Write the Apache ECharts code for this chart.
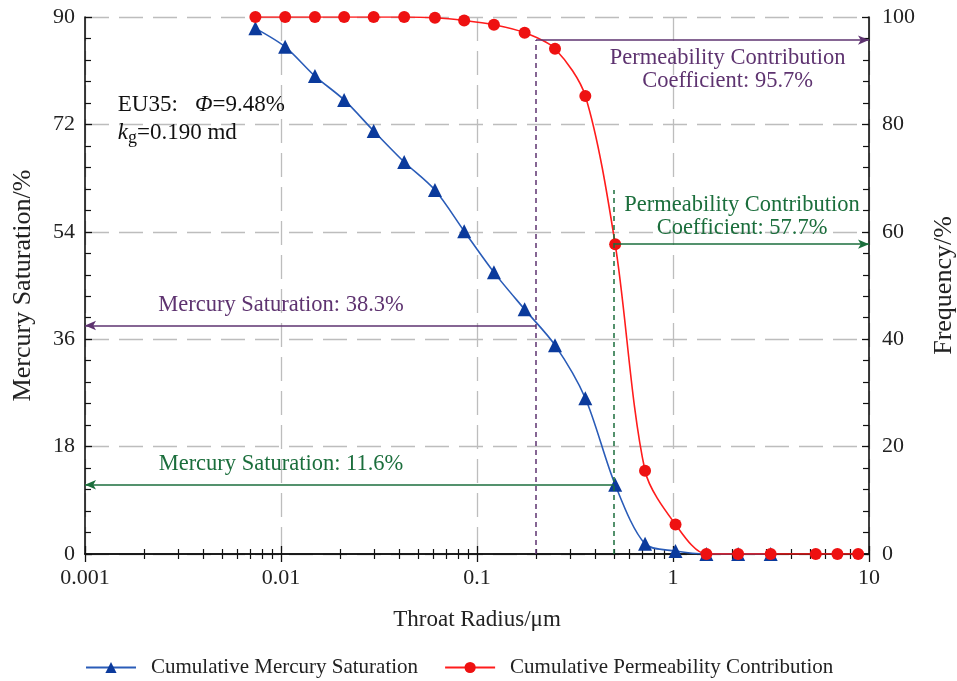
<!DOCTYPE html>
<html><head><meta charset="utf-8">
<script src="https://cdn.jsdelivr.net/npm/echarts@6/dist/echarts.min.js"></script>
<style>html,body{margin:0;padding:0;background:#fff}#c{width:957px;height:681px}</style>
</head><body><div id="c"></div>
<script>
// ---- data ----
const radius = [0.0074, 0.0105, 0.0149, 0.021, 0.0297, 0.0425, 0.061, 0.086, 0.122, 0.175, 0.25, 0.357, 0.507, 0.72, 1.03, 1.48, 2.15, 3.15, 5.35, 6.9, 8.8];
const mercurySat = [88.1, 85.0, 80.1, 76.1, 70.9, 65.7, 61.0, 54.1, 47.2, 41.0, 35.0, 26.1, 11.6, 1.7, 0.5, 0, 0, 0];
const permContrib = [100, 100, 100, 100, 100, 100, 99.85, 99.35, 98.55, 97.07, 94.1, 85.3, 57.7, 15.5, 5.5, 0, 0, 0, 0, 0, 0];
const xTickLabels = ['0.001', '0.01', '0.1', '1', '10'];
const seriesNames = ['Cumulative Mercury Saturation', 'Cumulative Permeability Contribution'];
// annotation values
const radiusA = 0.2, radiusB = 0.5;
const satA = 38.3, satB = 11.6;
const permA = 95.7, permB = 57.7;
const greenDashTop = 67.8;
const sampleInfo = { name: 'EU35', phi: '9.48%', kg: '0.190 md' };

const FONT = "'Liberation Serif','Times New Roman',serif";
const PURPLE = '#5e3370', GREEN = '#1b6e3c';

const blueData = mercurySat.map((v, i) => [radius[i], v]);
const redData = permContrib.map((v, i) => [radius[i], v]);

const chart = echarts.init(document.getElementById('c'));
const axisLineStyle = { color: '#111', width: 1.6 };
const splitStyle = { show: true, lineStyle: { color: '#bdbdbd', type: [24, 10], width: 1.3 } };
const annFont = 22.5;

const option = {
  animation: false,
  grid: { left: 85, right: 88, top: 17, bottom: 127, outerBoundsMode: 'none', containLabel: false },
  legend: {
    top: 652, left: 80, itemGap: 26, itemWidth: 50, itemHeight: 14,
    textStyle: { fontFamily: FONT, fontSize: 21, color: '#222', padding: [0, 0, 0, 10] },
    data: seriesNames
  },
  xAxis: [
    {
      type: 'log', min: 0.001, max: 10, logBase: 10, position: 'bottom',
      axisLine: { lineStyle: axisLineStyle },
      axisTick: { inside: true, length: 8, lineStyle: { color: '#111', width: 1.3 } },
      minorTick: { show: true, splitNumber: 9, length: 5, lineStyle: { color: '#111', width: 1.2 } },
      axisLabel: { fontFamily: FONT, fontSize: 22, color: '#222', margin: 13,
        formatter: (v, i) => xTickLabels[i] },
      splitLine: splitStyle,
      name: 'Throat Radius/μm', nameLocation: 'middle', nameGap: 54,
      nameTextStyle: { fontFamily: FONT, fontSize: 23, color: '#222' }
    },
    {
      type: 'log', min: 0.001, max: 10, logBase: 10, position: 'top',
      axisLine: { lineStyle: axisLineStyle },
      axisTick: { inside: true, length: 8, lineStyle: { color: '#111', width: 1.3 } },
      minorTick: { show: true, splitNumber: 9, length: 5, lineStyle: { color: '#111', width: 1.2 } },
      axisLabel: { show: false }, splitLine: { show: false }
    }
  ],
  yAxis: [
    {
      type: 'value', min: 0, max: 90, interval: 18, position: 'left',
      axisLine: { show: true, lineStyle: axisLineStyle },
      axisTick: { show: true, inside: true, length: 7, lineStyle: { color: '#111', width: 1.3 } },
      minorTick: { show: true, splitNumber: 5, length: 6, lineStyle: { color: '#111', width: 1.2 } },
      axisLabel: { fontFamily: FONT, fontSize: 22, color: '#222', margin: 10 },
      splitLine: splitStyle,
      name: 'Mercury Saturation/%', nameLocation: 'middle', nameGap: 49, nameRotate: 90,
      nameTextStyle: { fontFamily: FONT, fontSize: 26, color: '#222' }
    },
    {
      type: 'value', min: 0, max: 100, interval: 20, position: 'right',
      axisLine: { show: true, lineStyle: axisLineStyle },
      axisTick: { show: true, inside: true, length: 7, lineStyle: { color: '#111', width: 1.3 } },
      minorTick: { show: true, splitNumber: 5, length: 6, lineStyle: { color: '#111', width: 1.2 } },
      axisLabel: { fontFamily: FONT, fontSize: 22, color: '#222', margin: 13 },
      splitLine: { show: false },
      name: 'Frequency/%', nameLocation: 'middle', nameGap: 62, nameRotate: 90,
      nameTextStyle: { fontFamily: FONT, fontSize: 26, color: '#222' }
    }
  ],
  series: [
    {
      name: seriesNames[0], type: 'line', xAxisIndex: 0, yAxisIndex: 0, data: blueData,
      smooth: 0.3, symbol: 'triangle', symbolSize: 14,
      lineStyle: { color: '#2a5cb8', width: 1.6 },
      itemStyle: { color: '#0b3a9c' }, z: 3
    },
    {
      name: seriesNames[1], type: 'line', xAxisIndex: 0, yAxisIndex: 1, data: redData,
      smooth: 0.3, symbol: 'circle', symbolSize: 12,
      lineStyle: { color: '#ff1c1c', width: 1.6 },
      itemStyle: { color: '#ee1111' }, z: 4
    },
    {
      name: 'annLeft', type: 'line', xAxisIndex: 0, yAxisIndex: 0, data: [], z: 2,
      markLine: {
        silent: true, symbol: ['none', 'arrow'], symbolSize: [7, 11], label: { show: false },
        data: [
          [{ coord: [radiusA, satA], lineStyle: { color: PURPLE, width: 1.5, type: 'solid' } }, { coord: [0.001, satA] }],
          [{ coord: [radiusB, satB], lineStyle: { color: GREEN, width: 1.5, type: 'solid' } }, { coord: [0.001, satB] }]
        ]
      },
      markPoint: {
        silent: true, symbol: 'circle', symbolSize: 0,
        data: [
          { coord: [0.01, satA], label: { show: true, position: 'top', distance: 9, formatter: 'Mercury Saturation: ' + satA + '%', fontFamily: FONT, fontSize: annFont, color: PURPLE } },
          { coord: [0.01, satB], label: { show: true, position: 'top', distance: 9, formatter: 'Mercury Saturation: ' + satB + '%', fontFamily: FONT, fontSize: annFont, color: GREEN } },
          { coord: [0.00147, 72.9], label: { show: true, position: 'right', distance: 0, align: 'left', lineHeight: 28,
            formatter: '{n|' + sampleInfo.name + ':   }{i|Φ}{n|=' + sampleInfo.phi + '}\n{i|k}{s|g}{n|=' + sampleInfo.kg + '}',
            rich: {
              n: { fontFamily: FONT, fontSize: 23, color: '#111', lineHeight: 28 },
              i: { fontFamily: FONT, fontSize: 23, fontStyle: 'italic', color: '#111', lineHeight: 28 },
              s: { fontFamily: FONT, fontSize: 18, color: '#111', lineHeight: 28, verticalAlign: 'bottom' }
            } } }
        ]
      }
    },
    {
      name: 'annRight', type: 'line', xAxisIndex: 0, yAxisIndex: 1, data: [], z: 2,
      markLine: {
        silent: true, symbol: ['none', 'arrow'], symbolSize: [7, 11], label: { show: false },
        data: [
          [{ coord: [radiusA, permA], lineStyle: { color: PURPLE, width: 1.5, type: 'solid' } }, { coord: [10, permA] }],
          [{ coord: [radiusB, permB], lineStyle: { color: GREEN, width: 1.5, type: 'solid' } }, { coord: [10, permB] }]
        ]
      },
      markPoint: {
        silent: true, symbol: 'circle', symbolSize: 0,
        data: [
          { coord: [1.9, permA], label: { show: true, position: 'bottom', distance: 7, align: 'center', lineHeight: 23,
            formatter: 'Permeability Contribution\nCoefficient: ' + permA + '%', fontFamily: FONT, fontSize: annFont, color: PURPLE } },
          { coord: [2.25, permB], label: { show: true, position: 'top', distance: 5, align: 'center', lineHeight: 23,
            formatter: 'Permeability Contribution\nCoefficient: ' + permB + '%', fontFamily: FONT, fontSize: annFont, color: GREEN } }
        ]
      }
    },
    {
      name: 'annVert', type: 'line', xAxisIndex: 0, yAxisIndex: 1, data: [], z: 2,
      markLine: {
        silent: true, symbol: ['none', 'none'], label: { show: false },
        data: [
          [{ coord: [radiusA, 0], lineStyle: { color: PURPLE, width: 1.5, type: [5, 4] } }, { coord: [radiusA, permA] }],
          [{ coord: [radiusB, 0], lineStyle: { color: GREEN, width: 1.5, type: [5, 4] } }, { coord: [radiusB, greenDashTop] }]
        ]
      }
    }
  ]
};
chart.setOption(option);
</script></body></html>
